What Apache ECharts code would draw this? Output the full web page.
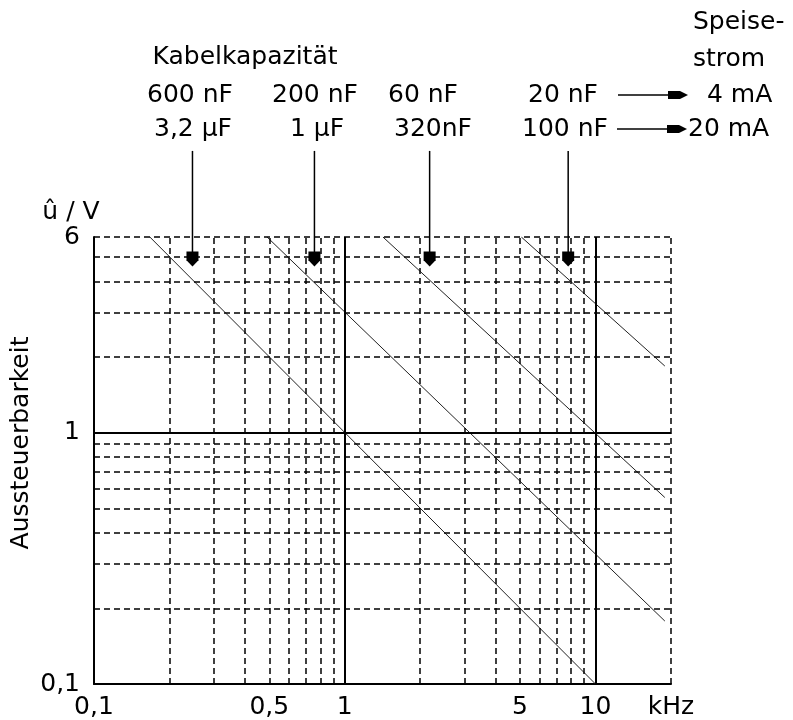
<!DOCTYPE html>
<html>
<head>
<meta charset="utf-8">
<script src="https://cdn.jsdelivr.net/npm/echarts@6/dist/echarts.min.js"></script>
<style>
	html, body { margin: 0; padding: 0; background: #fff; }
	#chart { width: 793px; height: 720px; }
</style>
</head>
<body>
<div id="chart"></div>
<script>
(function () {

	var FONT = "'DejaVu Sans', sans-serif";
	var FS   = 25;
	var INK  = '#000';

	// Kennlinien (Anfangs- und Endpunkt, f in kHz, u in V)
	var line1 = [[0.167, 6], [10, 0.1]];
	var line2 = [[0.49, 6], [18.9, 0.178]];
	var line3 = [[1.42, 6], [18.9, 0.552]];
	var line4 = [[5.06, 6], [18.9, 1.84]];

	var xTicks = [0.1, 0.5, 1, 5, 10, 20];
	var yTicks = [0.1, 1, 6];

	var xMinor = [0.2, 0.3, 0.4, 0.5, 0.6, 0.7, 0.8, 0.9, 2, 3, 4, 5, 6, 7, 8, 9];
	var yMinor = [0.2, 0.3, 0.4, 0.5, 0.6, 0.7, 0.8, 0.9, 2, 3, 4, 5];
	var xSolid = [1, 10];
	var ySolid = [1];
	var xEdge  = [20];
	var yEdge  = [6];

	// Pfeile von den Beschriftungen auf die Kennlinien
	var arrowX   = [0.247, 0.757, 2.18, 7.78];
	var arrowTop = 13.2;
	var arrowEnd = 4.9;

	var capTop    = ['600 nF', '200 nF', '60 nF', '20 nF'];
	var capBottom = ['3,2 µF', '1 µF', '320nF', '100 nF'];
	var current   = ['4 mA', '20 mA'];

	function fmt(v) {
		if (v === 20) return 'kHz';
		return String(v).replace('.', ',');
	}

	function txt(str, x, y, align, extra) {
		var o = {
			type: 'text', x: x, y: y, silent: true,
			style: {
				text: str, font: FS + 'px ' + FONT, fill: INK,
				align: align || 'center', textAlign: align || 'center',
				verticalAlign: 'middle', textVerticalAlign: 'middle'
			}
		};
		if (extra) for (var k in extra) o[k] = extra[k];
		return o;
	}

	function hArrow(x1, x2, y) {
		return [
			{ type: 'line', silent: true, shape: { x1: x1, y1: y, x2: x2 - 12, y2: y }, style: { stroke: INK, lineWidth: 1.5 } },
			{ type: 'polygon', silent: true, shape: { points: [[x2 - 20, y - 4], [x2 - 8, y - 4], [x2, y], [x2 - 8, y + 4], [x2 - 20, y + 4]] }, style: { fill: INK } }
		];
	}

	var dash = [6, 4];
	var gridLines = [];
	xMinor.forEach(function (v) { gridLines.push({ xAxis: v, lineStyle: { type: dash, width: 1.5 } }); });
	yMinor.forEach(function (v) { gridLines.push({ yAxis: v, lineStyle: { type: dash, width: 1.5 } }); });
	xEdge.forEach(function (v)  { gridLines.push({ xAxis: v, lineStyle: { type: dash, width: 1.5 } }); });
	yEdge.forEach(function (v)  { gridLines.push({ yAxis: v, lineStyle: { type: dash, width: 1.5 } }); });
	xSolid.forEach(function (v) { gridLines.push({ xAxis: v, lineStyle: { type: 'solid', width: 2 } }); });
	ySolid.forEach(function (v) { gridLines.push({ yAxis: v, lineStyle: { type: 'solid', width: 2 } }); });

	var series = [{
		type: 'line', data: [], z: 1, silent: true,
		markLine: {
			silent: true, symbol: 'none', label: { show: false },
			lineStyle: { color: INK }, animation: false,
			data: gridLines
		}
	}];

	[line1, line2, line3, line4].forEach(function (d, i) {
		series.push({
			name: capTop[i] + ' / ' + capBottom[i],
			type: 'line', data: d, z: 3, silent: true,
			showSymbol: false, symbol: 'none',
			lineStyle: { color: '#222', width: 1, type: 'solid' }
		});
	});

	arrowX.forEach(function (x) {
		series.push({
			type: 'line', z: 4, silent: true, clip: false,
			data: [
				{ value: [x, arrowTop], symbol: 'none' },
				{ value: [x, arrowEnd], symbol: 'path://M0,0 L10,0 L10,8 L5,14 L0,8 Z', symbolSize: [12, 15] }
			],
			showSymbol: true,
			itemStyle: { color: INK },
			lineStyle: { color: INK, width: 1.5 }
		});
	});

	var graphic = [
		txt('Kabelkapazität', 245, 57),
		txt('Speise-', 693, 22, 'left'),
		txt('strom', 693, 59, 'left'),
		txt(current[0], 707, 95, 'left'),
		txt(current[1], 688, 129, 'left'),
		txt('Aussteuerbarkeit', 21, 443, 'center', { rotation: Math.PI / 2 })
	];
	var capX1 = [190, 315, 423, 563];
	var capX2 = [193, 317, 433, 565];
	capTop.forEach(function (s, i) { graphic.push(txt(s, capX1[i], 95)); });
	capBottom.forEach(function (s, i) { graphic.push(txt(s, capX2[i], 129)); });
	graphic = graphic.concat(hArrow(618, 688, 95), hArrow(617, 687, 129));

	var chart = echarts.init(document.getElementById('chart'), null, { renderer: 'canvas' });
	chart.setOption({
		animation: false,
		backgroundColor: '#fff',
		grid: { left: 94, right: 122, top: 237, bottom: 35, containLabel: false },
		xAxis: {
			type: 'log', logBase: 10, min: 0.1, max: 20,
			axisLine: { show: true, lineStyle: { color: INK, width: 2 } },
			axisTick: { show: false },
			splitLine: { show: false },
			axisLabel: {
				customValues: xTicks, formatter: fmt, margin: 11,
				color: INK, fontFamily: FONT, fontSize: FS
			}
		},
		yAxis: {
			type: 'log', logBase: 10, min: 0.1, max: 6,
			name: 'û / V', nameLocation: 'end', nameGap: 12,
			nameTextStyle: { color: INK, fontFamily: FONT, fontSize: FS, align: 'center', padding: [0, 46, 0, 0] },
			axisLine: { show: true, lineStyle: { color: INK, width: 2 } },
			axisTick: { show: false },
			splitLine: { show: false },
			axisLabel: {
				customValues: yTicks, formatter: fmt, margin: 14,
				color: INK, fontFamily: FONT, fontSize: FS
			}
		},
		graphic: graphic,
		series: series
	});

	window.addEventListener('resize', function () { chart.resize(); });

})();
</script>
</body>
</html>
